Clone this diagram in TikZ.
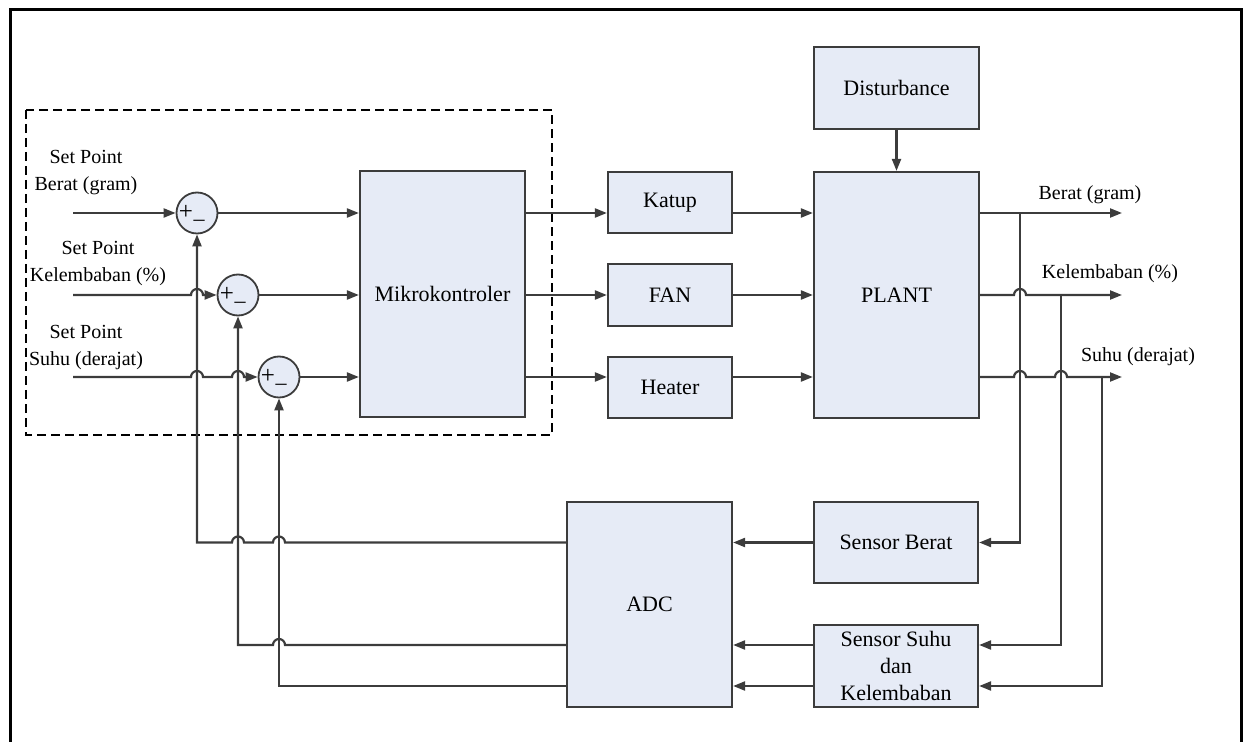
\documentclass[tikz,border=0pt]{standalone}
\usepackage{fontspec}
\setmainfont{Liberation Serif}
\usetikzlibrary{arrows.meta}
\definecolor{garis}{RGB}{60,60,60}
\definecolor{isiblok}{RGB}{230,235,246}

\begin{document}
\begin{tikzpicture}[x=0.5pt,y=0.5pt,yscale=-1,xscale=1,
  blok/.style={draw=garis,fill=isiblok,line width=1.1pt,inner sep=0pt,align=center,font=\fontsize{11}{13.5}\selectfont},
  jumlah/.style={circle,draw=garis,fill=isiblok,line width=0.9pt,minimum size=20.5pt,inner sep=0pt},
  sinyal/.style={draw=garis,line width=1.1pt,-{Triangle[length=6pt,width=4.5pt]}},
  teks/.style={inner sep=0.75pt,align=center,font=\fontsize{10}{13.5}\selectfont},
  kotakputus/.style={draw=black,line width=1pt,dash pattern=on 4.5pt off 2.5pt}]
\useasboundingbox (0,0) rectangle (1245,742);

%Frame
\draw[line width=1.5pt] (10,742) -- (10,10) -- (1241,10) -- (1241,742);
%Dashed controller area
\draw[kotakputus] (26,110) rectangle (552,435);

%Shape: Rectangle
\node[blok,minimum width=82.5pt,minimum height=41pt] (dist) at (896.5,88) {Disturbance};
\node[blok,minimum width=82.5pt,minimum height=123pt] (plant) at (896.5,295) {PLANT};
\node[blok,minimum width=82.5pt,minimum height=123pt] (mikro) at (442.5,294) {Mikrokontroler};
\node[blok,minimum width=62pt,minimum height=30.5pt] (katup) at (670,202.5) {Katup};
\node[blok,minimum width=62pt,minimum height=31pt] (fan) at (670,295) {FAN};
\node[blok,minimum width=62pt,minimum height=30.5pt] (heater) at (670,387.5) {Heater};
\node[blok,minimum width=82.5pt,minimum height=102.5pt] (adc) at (649.5,604.5) {ADC};
\node[blok,minimum width=82pt,minimum height=40.5pt] (sberat) at (896,542.5) {Sensor Berat};
\node[blok,minimum width=82pt,minimum height=41pt] (ssuhu) at (896,666) {Sensor Suhu\\dan\\Kelembaban};

%Shape: Circle
\node[jumlah] (s1) at (197,213) {};
\node[jumlah] (s2) at (238,295) {};
\node[jumlah] (s3) at (279,377) {};
\foreach \s in {s1,s2,s3}{
  \node[inner sep=0pt,font=\fontsize{12.5}{13}\selectfont] at ([shift={(-11,-1)}]\s) {+};
  \node[inner sep=0pt,anchor=base,font=\fontsize{11}{12}\selectfont] at ([shift={(2,6)}]\s) {\_};
}

%Free ends
\coordinate (in1) at (73,213);
\coordinate (in2) at (73,295);
\coordinate (in3) at (73,377);
\coordinate (out1) at (1122,213);
\coordinate (out2) at (1122,295);
\coordinate (out3) at (1122,377);
\coordinate (t1) at (1020,213);
\coordinate (t2) at (1061,295);
\coordinate (t3) at (1102,377);
\coordinate (r2) at (0,645);
\coordinate (r3) at (0,686);

%Straight Lines: set points
\draw[sinyal] (in1) -- (s1);
\draw[sinyal] (in2) -- ([xshift=-3pt]s1 |- in2) arc[start angle=180,end angle=360,radius=6] -- (s2);
\draw[sinyal] (in3) -- ([xshift=-3pt]s1 |- in3) arc[start angle=180,end angle=360,radius=6]
  -- ([xshift=-3pt]s2 |- in3) arc[start angle=180,end angle=360,radius=6] -- (s3);
%Straight Lines: error to controller
\draw[sinyal] (s1) -- (mikro.west |- s1);
\draw[sinyal] (s2) -- (mikro.west |- s2);
\draw[sinyal] (s3) -- (mikro.west |- s3);
%Straight Lines: controller to actuators
\draw[sinyal] (mikro.east |- s1) -- (katup.west |- s1);
\draw[sinyal] (mikro.east |- s2) -- (fan.west |- s2);
\draw[sinyal] (mikro.east |- s3) -- (heater.west |- s3);
%Straight Lines: actuators to plant
\draw[sinyal] (katup.east |- s1) -- (plant.west |- s1);
\draw[sinyal] (fan.east |- s2) -- (plant.west |- s2);
\draw[sinyal] (heater.east |- s3) -- (plant.west |- s3);
\draw[sinyal] (dist) -- (plant);
%Straight Lines: outputs
\draw[sinyal] (plant.east |- t1) -- (out1);
\draw[sinyal] (plant.east |- t2) -- ([xshift=-3pt]t1 |- t2) arc[start angle=180,end angle=360,radius=6] -- (out2);
\draw[sinyal] (plant.east |- t3) -- ([xshift=-3pt]t1 |- t3) arc[start angle=180,end angle=360,radius=6]
  -- ([xshift=-3pt]t2 |- t3) arc[start angle=180,end angle=360,radius=6] -- (out3);
%Straight Lines: to sensors
\draw[sinyal] (t1) |- (sberat.east);
\draw[sinyal] (t2) |- (ssuhu.east |- r2);
\draw[sinyal] (t3) |- (ssuhu.east |- r3);
%Straight Lines: sensors to ADC
\draw[sinyal] (sberat) -- (adc.east |- sberat);
\draw[sinyal] (ssuhu.west |- r2) -- (adc.east |- r2);
\draw[sinyal] (ssuhu.west |- r3) -- (adc.east |- r3);
%Straight Lines: feedback
\draw[sinyal] (adc.west |- sberat) -- ([xshift=3pt]s3 |- sberat) arc[start angle=0,end angle=-180,radius=6]
  -- ([xshift=3pt]s2 |- sberat) arc[start angle=0,end angle=-180,radius=6] -- (s1 |- sberat) -- (s1);
\draw[sinyal] (adc.west |- r2) -- ([xshift=3pt]s3 |- r2) arc[start angle=0,end angle=-180,radius=6]
  -- (s2 |- r2) -- (s2);
\draw[sinyal] (adc.west |- r3) -- (s3 |- r3) -- (s3);

% Text Node
\node[teks] (lb1) at (86,173) {Set Point\\Berat (gram)};
% Text Node
\node[teks] (lb2) at (98,264) {Set Point\\Kelembaban (\%)};
% Text Node
\node[teks] (lb3) at (86,348) {Set Point\\Suhu (derajat)};
% Text Node
\node[teks] (lo1) at (1090,195) {Berat (gram)};
% Text Node
\node[teks] (lo2) at (1110,274) {Kelembaban (\%)};
% Text Node
\node[teks] (lo3) at (1138,357) {Suhu (derajat)};

\end{tikzpicture}
\end{document}
